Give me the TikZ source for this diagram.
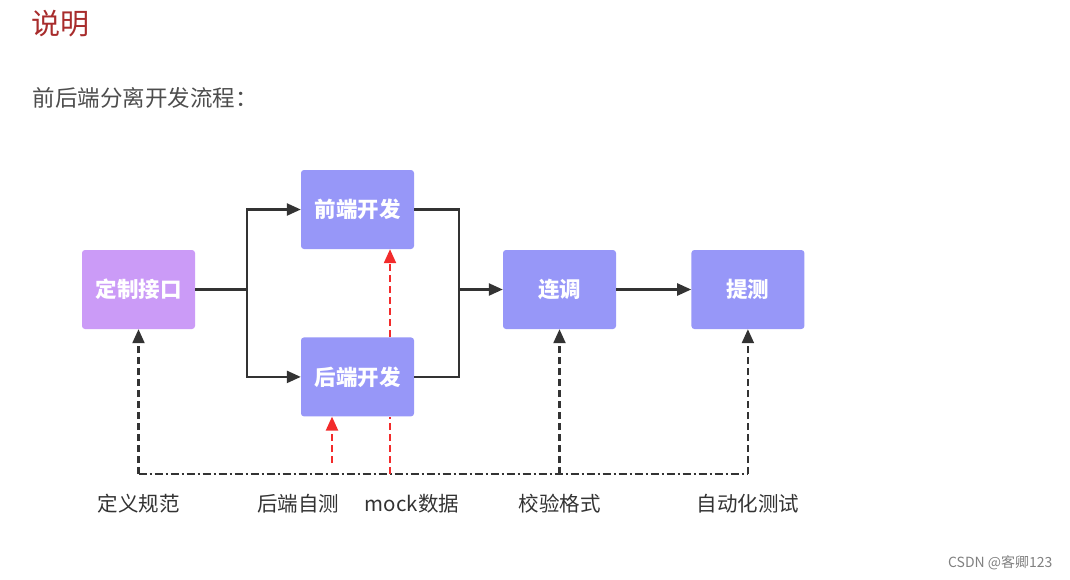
\documentclass[tikz,border=0pt]{standalone}
\usepackage{fontspec}
\setmainfont{Noto Sans CJK SC}
\usetikzlibrary{arrows.meta,positioning}

\definecolor{titlered}{HTML}{A82C2C}
\definecolor{textgray}{HTML}{4D4D4D}
\definecolor{linegray}{HTML}{333333}
\definecolor{apiviolet}{HTML}{CB9BF7}
\definecolor{devblue}{HTML}{9797F8}
\definecolor{checkred}{HTML}{F22B2B}

\begin{document}
\begin{tikzpicture}[x=1pt, y=-1pt,
			node distance=88pt,
			block/.style={rounded corners=3pt, minimum width=113pt, minimum height=79pt, text=white, font=\fontsize{21.5}{25}\selectfont\bfseries},
			apiblock/.style={block, fill=apiviolet},
			devblock/.style={block, fill=devblue},
			flow/.style={draw=linegray, line width=2.4pt, -{Triangle[length=14pt, width=12pt]}},
			guide/.style={draw=linegray, line width=2.2pt, dash pattern=on 7pt off 4pt, -{Triangle[length=14pt, width=12pt]}},
			bus/.style={draw=linegray, line width=2.2pt, dash pattern=on 8pt off 3pt on 2pt off 3pt},
			redguide/.style={draw=checkred, line width=2.2pt, dash pattern=on 7pt off 4pt},
			note/.style={text=linegray, font=\fontsize{20.5}{24}\selectfont},
		]
			\useasboundingbox (0,0) rectangle (1070,579);

			\node[anchor=west, text=titlered, font=\fontsize{29}{33}\selectfont] (title) at (28,24) {说明};
			\node[anchor=west, text=textgray, font=\fontsize{22.5}{26}\selectfont] (intro) at (29,98) {前后端分离开发流程：};

			\node[apiblock] (define) at (138.5,289.5) {定制接口};
			\node[devblock] (frontend) at (357.5,209.5) {前端开发};
			\node[devblock, below=of frontend] (backend) {后端开发};
			\node[devblock] (joint) at (559.5,289.5) {连调};
			\node[devblock, right=75pt of joint] (test) {提测};

			\node[note] (spec) at (138.5,504) {定义规范};
			\node[note] (selftest) at (298,504) {后端自测};
			\node[note] (mock) at (412,504) {mock数据};
			\node[note] (format) at (559.5,504) {校验格式};
			\node[note] (autotest) at (748,504) {自动化测试};

			\coordinate (bus) at (0,474);
			\coordinate (mockline) at (390,0);
			\coordinate (selfline) at (332,463);

			% main flow
			\draw[flow] (define.east) -- ++(52,0) coordinate (split) |- (frontend.west);
			\draw[flow] (split) |- (backend.west);
			\draw[linegray, line width=2.4pt] (frontend.east) -- ++(45,0) coordinate (merge) |- (backend.east);
			\draw[flow] (merge |- joint) -- (joint.west);
			\draw[flow] (joint) -- (test);

			% checks from below
			\draw[bus] (define |- bus) -- (test |- bus);
			\draw[guide] (define |- bus) -- (define.south);
			\draw[guide] (joint |- bus) -- (joint.south);
			\draw[guide] (test |- bus) -- (test.south);

			\draw[redguide, -{Triangle[length=14pt, width=12pt]}] (mockline |- backend.north) -- (mockline |- frontend.south);
			\draw[redguide] (mockline |- bus) -- (mockline |- backend.south);
			\draw[redguide, -{Triangle[length=14pt, width=12pt]}] (selfline) -- (selfline |- backend.south);

			\node[anchor=east, text=gray, font=\fontsize{14}{16}\selectfont] (credit) at (1056,563) {CSDN @客卿123};
		\end{tikzpicture}
\end{document}
